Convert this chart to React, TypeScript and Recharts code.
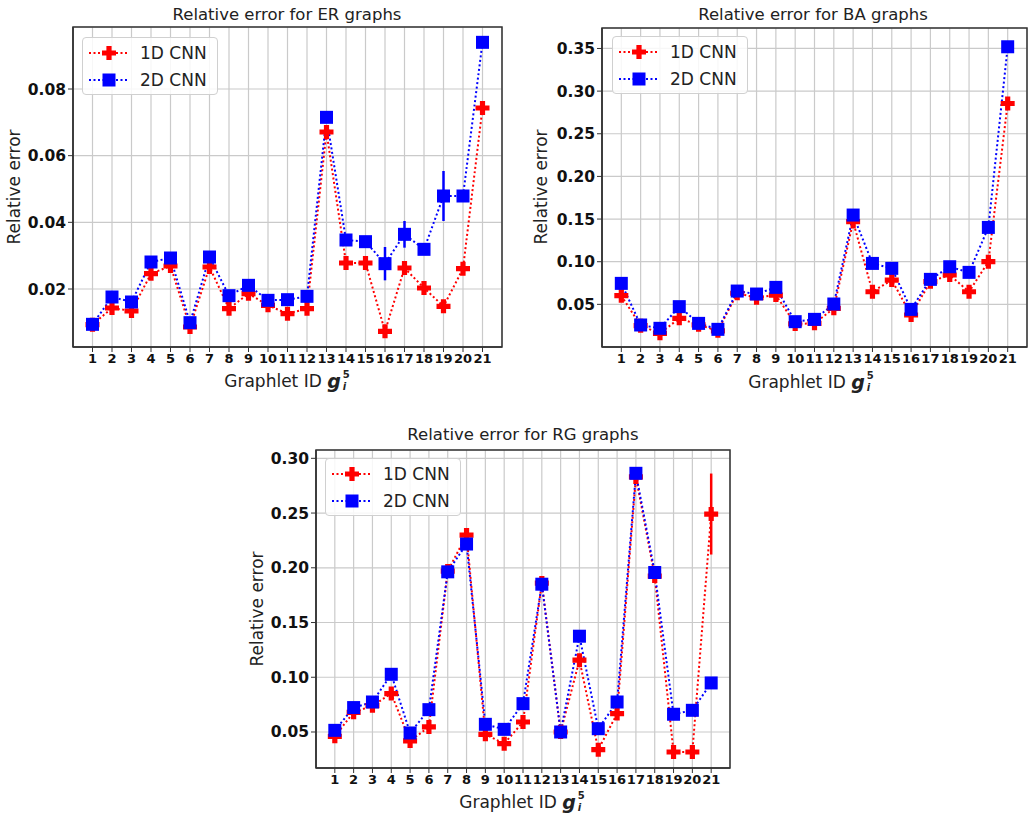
import React from "react";
import {
  LineChart,
  Line,
  XAxis,
  YAxis,
  CartesianGrid,
  ErrorBar,
  ReferenceArea,
} from "recharts";

const graphletIds = [1, 2, 3, 4, 5, 6, 7, 8, 9, 10, 11, 12, 13, 14, 15, 16, 17, 18, 19, 20, 21];

// ER graphs
const erCnn1D = [0.0093, 0.0143, 0.0134, 0.0246, 0.0269, 0.0086, 0.0266, 0.0141, 0.0186, 0.0151, 0.0126, 0.0141, 0.0671, 0.0278, 0.0278, 0.0073, 0.0263, 0.0203, 0.0148, 0.0261, 0.0743];
const erCnn2D = [0.0094, 0.0176, 0.0161, 0.0281, 0.0293, 0.0099, 0.0296, 0.018, 0.0211, 0.0166, 0.0168, 0.0178, 0.0715, 0.0347, 0.0342, 0.0276, 0.0364, 0.0319, 0.0479, 0.0479, 0.094];
const erErr1D = [0, 0, 0, 0, 0, 0, 0, 0, 0, 0, 0, 0, 0.001, 0, 0, 0, 0, 0, 0, 0, 0];
const erErr2D = [0, 0, 0, 0, 0.0006, 0, 0, 0, 0, 0, 0, 0, 0.001, 0, 0, 0.005, 0.004, 0, 0.0075, 0, 0];
const erTicks = [0.02, 0.04, 0.06, 0.08];

// BA graphs
const baCnn1D = [0.0602, 0.025, 0.016, 0.0336, 0.026, 0.019, 0.063, 0.0578, 0.0609, 0.027, 0.0277, 0.0453, 0.147, 0.0648, 0.0785, 0.0375, 0.0766, 0.0844, 0.0648, 0.1, 0.2855];
const baCnn2D = [0.0746, 0.0258, 0.0219, 0.0473, 0.0277, 0.0207, 0.0656, 0.0621, 0.0699, 0.0297, 0.0324, 0.0504, 0.1547, 0.098, 0.0922, 0.0441, 0.0793, 0.0941, 0.0875, 0.1402, 0.352];
const baErr1D = [0, 0, 0, 0, 0, 0, 0, 0, 0, 0, 0, 0, 0, 0, 0, 0, 0, 0, 0, 0, 0];
const baErr2D = [0, 0, 0, 0, 0, 0, 0, 0, 0, 0, 0, 0, 0, 0, 0, 0, 0, 0, 0, 0, 0];
const baTicks = [0.05, 0.1, 0.15, 0.2, 0.25, 0.3, 0.35];

// RG graphs
const rgCnn1D = [0.046, 0.068, 0.074, 0.0851, 0.0418, 0.0546, 0.197, 0.2299, 0.0479, 0.0393, 0.0591, 0.186, 0.05, 0.1156, 0.0338, 0.0668, 0.283, 0.1924, 0.0317, 0.0317, 0.2491];
const rgCnn2D = [0.0515, 0.0723, 0.0774, 0.1027, 0.0491, 0.0704, 0.1963, 0.2217, 0.057, 0.0524, 0.0759, 0.185, 0.05, 0.1375, 0.053, 0.0774, 0.2863, 0.1957, 0.0662, 0.0698, 0.0948];
const rgErr1D = [0, 0, 0, 0, 0, 0, 0, 0, 0, 0, 0, 0, 0, 0, 0, 0, 0, 0, 0, 0, 0.037];
const rgErr2D = [0, 0, 0, 0, 0, 0, 0, 0, 0, 0, 0, 0, 0, 0, 0, 0, 0.004, 0, 0, 0, 0];
const rgTicks = [0.05, 0.1, 0.15, 0.2, 0.25, 0.3];

const RED = "#ff0000";
const BLUE = "#0000ff";
const FONT = "'DejaVu Sans', Arial, sans-serif";

function PlusMarker({ cx, cy }: { cx: number; cy: number }) {
  if (cx == null || cy == null) return null;
  const a = 7;
  const t = 2.6;
  const d = `M${cx - t},${cy - a} H${cx + t} V${cy - t} H${cx + a} V${cy + t} H${cx + t} V${cy + a} H${cx - t} V${cy + t} H${cx - a} V${cy - t} H${cx - t} Z`;
  return <path d={d} fill={RED} />;
}

function SquareMarker({ cx, cy }: { cx: number; cy: number }) {
  if (cx == null || cy == null) return null;
  return <rect x={cx - 6.5} y={cy - 6.5} width={13} height={13} fill={BLUE} />;
}

function LegendBox({ left, top }: { left: number; top: number }) {
  const rows = [
    { label: "1D CNN", color: RED, marker: "plus" },
    { label: "2D CNN", color: BLUE, marker: "square" },
  ];
  return (
    <div
      style={{
        position: "absolute",
        left,
        top,
        width: 136,
        height: 58,
        background: "rgba(255,255,255,0.85)",
        border: "1px solid #d0d0d0",
        borderRadius: 4,
        boxSizing: "border-box",
      }}
    >
      {rows.map((r, i) => (
        <div key={r.label} style={{ position: "absolute", left: 0, top: 15 + i * 27 - 12, height: 24, width: 136 }}>
          <svg width={50} height={24} style={{ position: "absolute", left: 4, top: 0 }}>
            <line x1={2} y1={12} x2={42} y2={12} stroke={r.color} strokeWidth={2} strokeDasharray="2 2.5" />
            {r.marker === "plus" ? <PlusMarker cx={22} cy={12} /> : <SquareMarker cx={22} cy={12} />}
          </svg>
          <span
            style={{
              position: "absolute",
              left: 57,
              top: 1,
              fontSize: 17,
              lineHeight: "22px",
              color: "#222",
              whiteSpace: "nowrap",
            }}
          >
            {r.label}
          </span>
        </div>
      ))}
    </div>
  );
}

function XLabel({ x, y }: { x: number; y: number }) {
  return (
    <div
      style={{
        position: "absolute",
        left: x,
        top: y,
        transform: "translate(-50%, -50%)",
        whiteSpace: "nowrap",
        fontSize: 17,
        color: "#222",
        display: "flex",
        alignItems: "center",
      }}
    >
      <span>Graphlet ID&nbsp;</span>
      <span style={{ fontWeight: "bold", fontStyle: "italic", fontSize: 19, lineHeight: "22px" }}>g</span>
      <span
        style={{
          display: "inline-flex",
          flexDirection: "column",
          fontSize: 10,
          fontWeight: "bold",
          lineHeight: "12px",
          marginLeft: 2,
        }}
      >
        <span>5</span>
        <span style={{ fontStyle: "italic" }}>i</span>
      </span>
    </div>
  );
}

interface PanelProps {
  title: string;
  cnn1d: number[];
  cnn2d: number[];
  err1d: number[];
  err2d: number[];
  domain: [number, number];
  ticks: number[];
  left: number;
  top: number;
  width: number;
  height: number;
  marginTop: number;
  marginRight: number;
  yAxisWidth: number;
  titlePos: [number, number];
  yLabelPos: [number, number];
  xLabelPos: [number, number];
  legendPos: [number, number];
}

function Panel(p: PanelProps) {
  const data = graphletIds.map((id, i) => ({
    id,
    cnn1d: p.cnn1d[i],
    cnn2d: p.cnn2d[i],
    err1d: p.err1d[i],
    err2d: p.err2d[i],
  }));
  return (
    <>
      <div style={{ position: "absolute", left: p.left, top: p.top }}>
        <LineChart
          width={p.width}
          height={p.height}
          data={data}
          margin={{ top: p.marginTop, right: p.marginRight, left: 0, bottom: 0 }}
        >
          <CartesianGrid stroke="#cacaca" strokeWidth={1.2} />
          <XAxis
            dataKey="id"
            type="number"
            domain={[0, 22]}
            ticks={graphletIds}
            interval={0}
            height={25}
            tickSize={5}
            stroke="#333"
            axisLine={{ stroke: "#333", strokeWidth: 1.5 }}
            tick={{ fontSize: 13, fontWeight: "bold", fill: "#111", fontFamily: FONT }}
          />
          <YAxis
            type="number"
            domain={p.domain}
            ticks={p.ticks}
            allowDataOverflow
            width={p.yAxisWidth}
            tickSize={5}
            stroke="#333"
            axisLine={{ stroke: "#333", strokeWidth: 1.5 }}
            tickFormatter={(v: number) => v.toFixed(2)}
            tick={{ fontSize: 15.5, fontWeight: "bold", fill: "#111", fontFamily: FONT }}
          />
          <ReferenceArea
            x1={0}
            x2={22}
            y1={p.domain[0]}
            y2={p.domain[1]}
            fill="none"
            stroke="#333"
            strokeWidth={1.5}
            ifOverflow="extendDomain"
          />
          <Line
            dataKey="cnn1d"
            stroke={RED}
            strokeWidth={2}
            strokeDasharray="2 2.5"
            isAnimationActive={false}
            dot={(d: any) => <PlusMarker key={`p${d.index}`} cx={d.cx} cy={d.cy} />}
            activeDot={false}
          >
            <ErrorBar dataKey="err1d" direction="y" width={0} stroke={RED} strokeWidth={2.5} />
          </Line>
          <Line
            dataKey="cnn2d"
            stroke={BLUE}
            strokeWidth={2}
            strokeDasharray="2 2.5"
            isAnimationActive={false}
            dot={(d: any) => <SquareMarker key={`s${d.index}`} cx={d.cx} cy={d.cy} />}
            activeDot={false}
          >
            <ErrorBar dataKey="err2d" direction="y" width={0} stroke={BLUE} strokeWidth={2.5} />
          </Line>
        </LineChart>
      </div>
      <div
        style={{
          position: "absolute",
          left: p.titlePos[0],
          top: p.titlePos[1],
          transform: "translate(-50%, -50%)",
          whiteSpace: "nowrap",
          fontSize: 16.5,
          color: "#222",
        }}
      >
        {p.title}
      </div>
      <div
        style={{
          position: "absolute",
          left: p.yLabelPos[0],
          top: p.yLabelPos[1],
          transform: "translate(-50%, -50%) rotate(-90deg)",
          whiteSpace: "nowrap",
          fontSize: 17,
          color: "#222",
        }}
      >
        Relative error
      </div>
      <XLabel x={p.xLabelPos[0]} y={p.xLabelPos[1]} />
      <LegendBox left={p.legendPos[0]} top={p.legendPos[1]} />
    </>
  );
}

export default function App() {
  return (
    <div
      style={{
        position: "absolute",
        left: 0,
        top: 0,
        width: 1028,
        height: 814,
        background: "#fff",
        fontFamily: FONT,
        overflow: "hidden",
      }}
    >
      <Panel
        title="Relative error for ER graphs"
        cnn1d={erCnn1D}
        cnn2d={erCnn2D}
        err1d={erErr1D}
        err2d={erErr2D}
        domain={[0.0026, 0.0986]}
        ticks={erTicks}
        left={0}
        top={0}
        width={515}
        height={372}
        marginTop={27}
        marginRight={13}
        yAxisWidth={73}
        titlePos={[287, 14]}
        yLabelPos={[14, 187]}
        xLabelPos={[287, 381]}
        legendPos={[82, 37]}
      />
      <Panel
        title="Relative error for BA graphs"
        cnn1d={baCnn1D}
        cnn2d={baCnn2D}
        err1d={baErr1D}
        err2d={baErr2D}
        domain={[0, 0.374]}
        ticks={baTicks}
        left={520}
        top={0}
        width={508}
        height={372}
        marginTop={28}
        marginRight={1}
        yAxisWidth={82}
        titlePos={[813, 14]}
        yLabelPos={[541, 187]}
        xLabelPos={[811, 382]}
        legendPos={[612, 36]}
      />
      <Panel
        title="Relative error for RG graphs"
        cnn1d={rgCnn1D}
        cnn2d={rgCnn2D}
        err1d={rgErr1D}
        err2d={rgErr2D}
        domain={[0.0171, 0.3076]}
        ticks={rgTicks}
        left={230}
        top={400}
        width={510}
        height={393}
        marginTop={50}
        marginRight={10}
        yAxisWidth={86}
        titlePos={[523, 434]}
        yLabelPos={[257, 609]}
        xLabelPos={[522, 802]}
        legendPos={[325, 458]}
      />
    </div>
  );
}
